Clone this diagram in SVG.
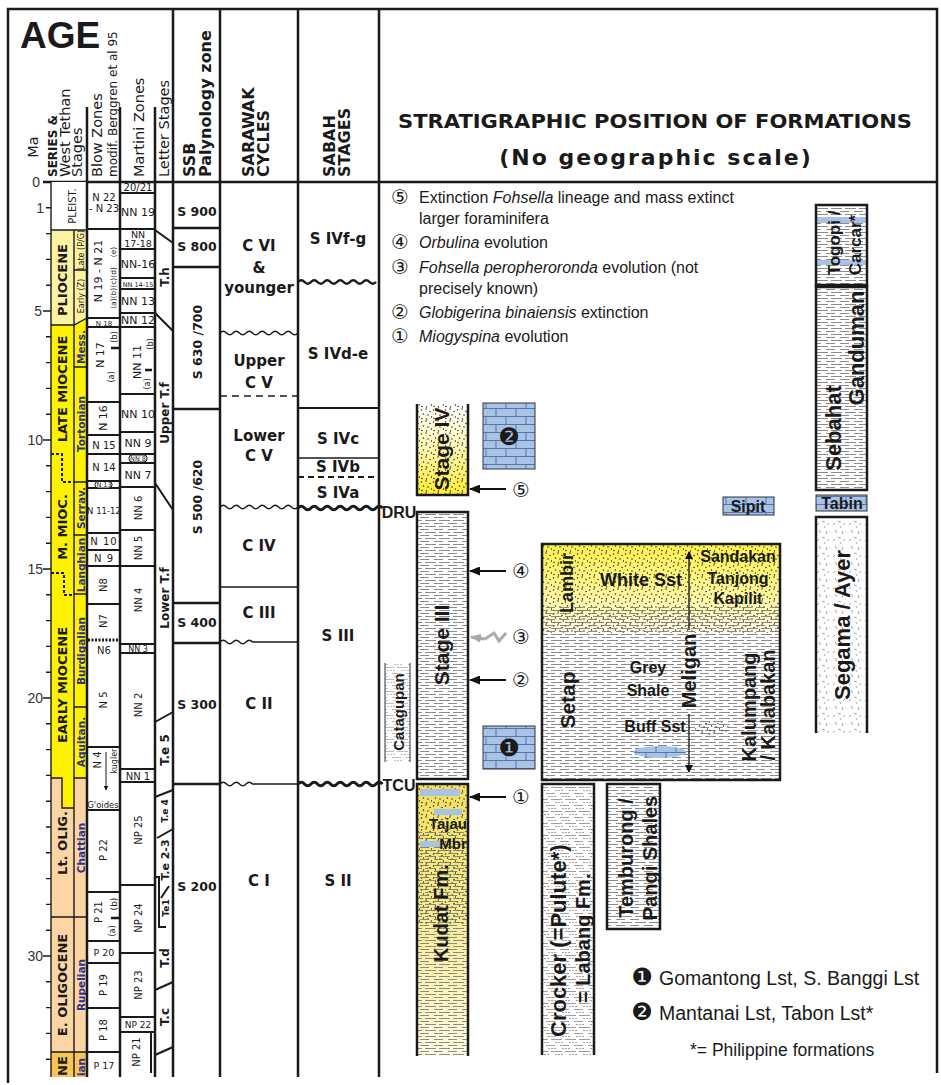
<svg xmlns="http://www.w3.org/2000/svg" width="941" height="1085" viewBox="0 0 941 1085">
<defs>
<style>
text{fill:#1a1a1a}
.hdr{font-family:"DejaVu Sans",sans-serif;font-size:14.5px;dominant-baseline:central}
.hdb{font-family:"DejaVu Sans",sans-serif;font-size:16px;font-weight:bold;dominant-baseline:central}
.ser{font-family:"DejaVu Sans",sans-serif;font-size:13px;font-weight:bold;text-anchor:middle;dominant-baseline:central}
.stg{font-family:"DejaVu Sans",sans-serif;font-size:10.5px;font-weight:bold;text-anchor:middle;dominant-baseline:central}
.stg.bl{fill:#2e3192}
.z{font-family:"DejaVu Sans",sans-serif;font-size:10px;text-anchor:middle}
.zr{font-family:"DejaVu Sans",sans-serif;font-size:10px;text-anchor:middle;dominant-baseline:central}
.lt{font-family:"DejaVu Sans",sans-serif;font-size:12px;font-weight:bold;text-anchor:middle;dominant-baseline:central}
.cy{font-family:"DejaVu Sans",sans-serif;font-size:15px;font-weight:bold;text-anchor:middle}
.ssb{font-family:"DejaVu Sans",sans-serif;font-size:12.5px;font-weight:bold;text-anchor:middle}
.fm{font-family:"Liberation Sans",Arial,sans-serif;font-weight:bold;text-anchor:middle;dominant-baseline:central}
.fh{font-family:"Liberation Sans",Arial,sans-serif;font-weight:bold;text-anchor:middle}
.lg{font-family:"Liberation Sans",Arial,sans-serif;font-size:16px}
.cn{font-family:"DejaVu Sans","Noto Sans CJK JP",sans-serif;font-size:20px;text-anchor:middle}
.dn{font-family:"DejaVu Sans",sans-serif;font-size:24px;text-anchor:middle;dominant-baseline:central}
.ma{font-family:"Liberation Sans",Arial,sans-serif;font-size:14px;text-anchor:end;fill:#333}
.k{stroke:#1a1a1a;fill:none}
.s{stroke:#1a1a1a}
.w25{stroke-width:2.5}
.w2{stroke-width:2}
.w15{stroke-width:1.4}
.w1{stroke-width:1}
.dash{stroke-dasharray:7 5}
.arr{stroke:#111;stroke-width:2.2;fill:none;marker-end:url(#ah)}
.lsb{stroke:#333;stroke-width:1}
</style>
<marker id="ah" markerWidth="11" markerHeight="9" refX="10" refY="4.5" orient="auto" markerUnits="userSpaceOnUse"><path d="M0,0 L11,4.5 L0,9 z" fill="#111"/></marker>
<marker id="ahg" markerWidth="11" markerHeight="9" refX="10" refY="4.5" orient="auto" markerUnits="userSpaceOnUse"><path d="M0,0 L11,4.5 L0,9 z" fill="#aaa"/></marker>
<marker id="ahs" markerWidth="8" markerHeight="8" refX="7" refY="4" orient="auto" markerUnits="userSpaceOnUse"><path d="M0,0 L8,4 L0,8 z" fill="#111"/></marker>
<marker id="ahxs" markerWidth="5" markerHeight="5" refX="4.5" refY="2.5" orient="auto" markerUnits="userSpaceOnUse"><path d="M0,0 L5,2.5 L0,5 z" fill="#111"/></marker>
<pattern id="shale" width="14" height="6" patternUnits="userSpaceOnUse"><path d="M0,1.5H9 M5,4.5H14 M0,4.5H2" stroke="#6e6e6e" stroke-width="0.8" fill="none"/></pattern>
<pattern id="dots" width="12" height="12" patternUnits="userSpaceOnUse"><g fill="#222"><circle cx="1.5" cy="2" r="0.75"/><circle cx="6" cy="1" r="0.75"/><circle cx="10" cy="3.5" r="0.75"/><circle cx="3.5" cy="6" r="0.75"/><circle cx="8" cy="7" r="0.75"/><circle cx="11.5" cy="9" r="0.75"/><circle cx="2" cy="10.5" r="0.75"/><circle cx="6.5" cy="11" r="0.75"/></g></pattern>
<pattern id="lst" width="20" height="16" patternUnits="userSpaceOnUse"><rect width="20" height="16" fill="#a9c3e6"/><path d="M0,0.5H20 M0,8.5H20 M6,0.5V8.5 M16,8.5V16" stroke="#4d6ea3" stroke-width="0.9" fill="none"/></pattern>
<pattern id="volc" width="16" height="16" patternUnits="userSpaceOnUse"><path d="M3,2l2,3 M11,3l-1,3 M6,9l3,1 M13,11l-2,2 M1,13l2,-2 M8,14l1,2" stroke="#8a8a8a" stroke-width="0.8" fill="none"/></pattern>
<pattern id="crock" width="14" height="12" patternUnits="userSpaceOnUse"><path d="M0,1.5H9 M5,7.5H14 M0,7.5H2" stroke="#777" stroke-width="0.7" fill="none"/><g fill="#333"><circle cx="3" cy="4.5" r="0.6"/><circle cx="6" cy="4.5" r="0.6"/><circle cx="9" cy="4.5" r="0.6"/><circle cx="10" cy="10.5" r="0.6"/><circle cx="13" cy="10.5" r="0.6"/><circle cx="2" cy="10.5" r="0.6"/></g></pattern>
<linearGradient id="gS4" x1="0" y1="0" x2="0" y2="1"><stop offset="0" stop-color="#ffffff"/><stop offset="0.5" stop-color="#fff8b0"/><stop offset="1" stop-color="#ffee2e"/></linearGradient>
<linearGradient id="gLam" x1="0" y1="0" x2="0" y2="1"><stop offset="0" stop-color="#fff24c"/><stop offset="0.65" stop-color="#fff8a8"/><stop offset="1" stop-color="#fffde6"/></linearGradient>
<linearGradient id="gKud" x1="0" y1="0" x2="0" y2="1"><stop offset="0" stop-color="#f3e060"/><stop offset="0.45" stop-color="#f8ec90"/><stop offset="1" stop-color="#fffbe2"/></linearGradient>
</defs>

<rect width="941" height="1085" fill="#ffffff"/>

<g id="frame">
<path class="k w25" d="M8,1083V9H937V1073"/>
<path class="k w25" d="M43,182H937"/>
</g>

<g id="header">
<text x="20" y="48" style="font-family:'Liberation Sans',Arial,sans-serif;font-size:37px;font-weight:bold">AGE</text>
<text class="hdr" transform="translate(33,147) rotate(-90)" text-anchor="middle">Ma</text>
<text class="hdr" transform="translate(53,177) rotate(-90)" style="font-weight:bold;font-size:12px">SERIES &amp;</text>
<text class="hdr" transform="translate(65,177) rotate(-90)">West Tethan</text>
<text class="hdr" transform="translate(77,177) rotate(-90)">Stages</text>
<text class="hdr" transform="translate(97,177) rotate(-90)">Blow Zones</text>
<text class="hdr" transform="translate(113,177) rotate(-90)" style="font-size:12px">modif. Berggren et al 95</text>
<text class="hdr" transform="translate(139,177) rotate(-90)">Martini Zones</text>
<text class="hdr" transform="translate(164,177) rotate(-90)">Letter Stages</text>
<text class="hdb" transform="translate(189,177) rotate(-90)">SSB</text>
<text class="hdb" transform="translate(205,177) rotate(-90)">Palynology zone</text>
<text class="hdb" transform="translate(248,177) rotate(-90)">SARAWAK</text>
<text class="hdb" transform="translate(263,177) rotate(-90)">CYCLES</text>
<text class="hdb" transform="translate(329,177) rotate(-90)">SABAH</text>
<text class="hdb" transform="translate(344,177) rotate(-90)">STAGES</text>
<text x="655" y="128" text-anchor="middle" textLength="514" lengthAdjust="spacingAndGlyphs" style="font-family:'DejaVu Sans',sans-serif;font-size:20px;font-weight:bold">STRATIGRAPHIC POSITION OF FORMATIONS</text>
<text x="656" y="165" text-anchor="middle" style="font-family:'DejaVu Sans',sans-serif;font-size:22px;font-weight:bold;letter-spacing:2px">(No geographic scale)</text>
</g>

<g id="ma-axis">
<path class="k w15" d="M43,182H51M46,207.8H51M46,233.6H51M46,259.4H51M46,285.2H51M43,311H51M46,336.8H51M46,362.6H51M46,388.4H51M46,414.2H51M43,440H51M46,465.8H51M46,491.6H51M46,517.4H51M46,543.2H51M43,569H51M46,594.8H51M46,620.6H51M46,646.4H51M46,672.2H51M43,698H51M46,723.8H51M46,749.6H51M46,775.4H51M46,801.2H51M46,827H51M46,852.8H51M46,878.6H51M46,904.4H51M46,930.2H51M43,956H51M46,981.8H51M46,1007.6H51M46,1033.4H51M46,1059.2H51"/>
<text class="ma" x="40" y="187">0</text>
<text class="ma" x="44" y="213">1</text>
<text class="ma" x="42" y="316">5</text>
<text class="ma" x="43" y="445">10</text>
<text class="ma" x="43" y="574">15</text>
<text class="ma" x="43" y="703">20</text>
<text class="ma" x="43" y="961">30</text>
</g>

<g id="series-stages">
<rect x="51" y="182" width="36" height="48" fill="#ffffff"/>
<rect x="51" y="230" width="23" height="95" fill="#fcf3a2"/>
<polygon points="74,230 87,230 87,318 74,325" fill="#fcf3a2"/>
<polygon points="51,325 74,325 74,808 62,808 62,778 51,778" fill="#fff200"/>
<polygon points="74,325 87,318 87,778 74,778" fill="#fff200"/>
<polygon points="51,778 62,778 62,808 74,808 74,1052 51,1052" fill="#fbd5a3"/>
<rect x="74" y="778" width="13" height="274" fill="#fbd5a3"/>
<rect x="51" y="1052" width="36" height="25" fill="#f8c45a"/>
<path class="k w15" d="M51,182V1077M74,230V1077M51,230H87M51,325H74L87,318M74,270H87M74,367H87M74,482H87M74,535H87M74,594H87M74,707H87M74,778H87M51,778H62V808H74M51,917H87M51,1052H87"/>
<path class="k w2" d="M51,454H62V482H74M51,573H64V595H74" stroke-dasharray="3 2"/>
<text class="zr" transform="translate(72,206) rotate(-90)">PLEIST.</text>
<text class="ser" transform="translate(62,280) rotate(-90)">PLIOCENE</text>
<text class="stg" transform="translate(81,250) rotate(-90)" style="font-size:8px;font-weight:normal">Late (P/G)</text>
<text class="stg" transform="translate(81,296) rotate(-90)" style="font-size:8px;font-weight:normal">Early (Z)</text>
<text class="ser" transform="translate(62,389) rotate(-90)">LATE MIOCENE</text>
<text class="stg bl" transform="translate(81,347) rotate(-90)">Mess.</text>
<text class="stg bl" transform="translate(81,424) rotate(-90)">Tortonian</text>
<text class="ser" transform="translate(62,527) rotate(-90)">M. MIOC.</text>
<text class="stg bl" transform="translate(81,508) rotate(-90)">Serrav.</text>
<text class="stg bl" transform="translate(81,565) rotate(-90)">Langhian</text>
<text class="ser" transform="translate(62,685) rotate(-90)">EARLY MIOCENE</text>
<text class="stg bl" transform="translate(81,651) rotate(-90)">Burdigalian</text>
<text class="stg bl" transform="translate(81,742) rotate(-90)">Aquitan.</text>
<text class="ser" transform="translate(62,843) rotate(-90)">Lt. OLIG.</text>
<text class="stg bl" transform="translate(81,848) rotate(-90)">Chattian</text>
<text class="ser" transform="translate(62,985) rotate(-90)">E. OLIGOCENE</text>
<text class="stg bl" transform="translate(81,985) rotate(-90)">Rupelian</text>
<text class="ser" transform="translate(62,1066) rotate(-90)">NE</text>
<text class="stg bl" transform="translate(81,1067) rotate(-90)">ian</text>
</g>

<g id="blow-zones">
<path class="k w25" d="M87,107V1077M120,107V1077"/>
<path class="k w2" d="M87,229H120M87,318H120M87,327H120M87,402H120M87,435H120M87,454H120M87,481H120M87,488H120M87,533H120M87,550H120M87,566H120M87,604H120M87,747H120M87,810H120M87,892H120M87,941H120M87,963H120M87,1008H120M87,1052H120"/>
<path class="k" stroke-width="3" stroke-dasharray="2 1.5" d="M88,640H119"/>
<path class="k" stroke-width="2.5" d="M111,348H119M111,918H119"/>
<rect x="95" y="481.5" width="17" height="6.5" rx="3" fill="#fff" class="s w1"/>
<text class="z" x="104" y="201">N 22</text>
<text class="z" x="104" y="212">- N 23</text>
<text class="zr" transform="translate(98,271) rotate(-90)" style="font-size:11px">N 19 - N 21</text>
<text class="zr" transform="translate(113,252) rotate(-90)" style="font-size:7.5px">(e)</text>
<text class="zr" transform="translate(113,288) rotate(-90)" style="font-size:7.5px">(a)(b)(c)(d)</text>
<text class="z" x="104" y="325.5" style="font-size:7px">N 18</text>
<text class="zr" transform="translate(100,355) rotate(-90)" style="font-size:11px">N 17</text>
<text class="zr" transform="translate(114,337) rotate(-90)" style="font-size:8px">(b)</text>
<text class="zr" transform="translate(111,377) rotate(-90)" style="font-size:8px">(a)</text>
<text class="zr" transform="translate(103,418) rotate(-90)" style="font-size:11px">N 16</text>
<text class="z" x="104" y="449">N 15</text>
<text class="z" x="104" y="471">N 14</text>
<text class="z" x="104" y="487" style="font-size:6.5px">N 13</text>
<text class="z" x="104" y="514" style="font-size:8.5px">N 11-12</text>
<text class="z" x="104" y="545" style="letter-spacing:1px">N 10</text>
<text class="z" x="104" y="562" style="letter-spacing:1px">N 9</text>
<text class="zr" transform="translate(103,585) rotate(-90)">N8</text>
<text class="zr" transform="translate(103,621) rotate(-90)">N7</text>
<text class="z" x="104" y="654">N6</text>
<text class="zr" transform="translate(103,700) rotate(-90)">N 5</text>
<text class="zr" transform="translate(97,760) rotate(-90)">N 4</text>
<path class="k w1" d="M106,770V752M106,770V790" marker-end="url(#ahxs)"/>
<text class="zr" transform="translate(114,760) rotate(-90)" style="font-size:8px">kugleri</text>
<text class="z" x="103" y="808" style="font-size:8.5px">G'oides</text>
<text class="zr" transform="translate(103,850) rotate(-90)">P 22</text>
<text class="zr" transform="translate(98,912) rotate(-90)">P 21</text>
<text class="zr" transform="translate(114,904) rotate(-90)" style="font-size:9px">(b)</text>
<text class="zr" transform="translate(112,931) rotate(-90)" style="font-size:8px">(a)</text>
<text class="z" x="104" y="956" style="font-size:9.5px">P 20</text>
<text class="zr" transform="translate(103,985) rotate(-90)">P 19</text>
<text class="zr" transform="translate(103,1030) rotate(-90)">P 18</text>
<text class="z" x="104" y="1069" style="font-size:9.5px">P 17</text>
</g>

<g id="martini-zones">
<path class="k w25" d="M155,107V1077"/>
<path class="k w2" d="M120,193H155M120,229H155M120,249H155M120,278H155M120,289H155M120,313H155M120,327H155M120,394H155M120,432H155M120,454H155M120,463H155M120,487H155M120,530H155M120,566H155M120,644H155M120,653H155M120,769H155M120,782H155M120,885H155M120,953H155M120,1017H155M120,1032H155M151,1032V1073"/>
<path class="k" stroke-width="2.5" d="M145,370H152"/>
<rect x="129" y="455" width="18" height="7" rx="3" fill="#fff" class="s w1"/>
<text class="z" x="138" y="191">20/21</text>
<text class="z" x="138" y="216" style="font-size:11px">NN 19</text>
<text class="z" x="138" y="238" style="font-size:9.5px">NN</text>
<text class="z" x="138" y="247" style="font-size:9.5px">17-18</text>
<text class="z" x="138" y="268" style="font-size:11px">NN-16</text>
<text class="z" x="138" y="286.5" style="font-size:6.5px">NN 14-15</text>
<text class="z" x="138" y="305" style="font-size:11px">NN 13</text>
<text class="z" x="138" y="324" style="font-size:11px">NN 12</text>
<text class="zr" transform="translate(137,362) rotate(-90)" style="font-size:11px">NN 11</text>
<text class="zr" transform="translate(150,344) rotate(-90)" style="font-size:8px">(b)</text>
<text class="zr" transform="translate(147,384) rotate(-90)" style="font-size:8px">(a)</text>
<text class="z" x="138" y="418" style="font-size:11px">NN 10</text>
<text class="z" x="138" y="447" style="font-size:11px">NN 9</text>
<text class="z" x="138" y="461" style="font-size:6.5px">NN 8</text>
<text class="z" x="138" y="479" style="font-size:11px">NN 7</text>
<text class="zr" transform="translate(138,508) rotate(-90)">NN 6</text>
<text class="zr" transform="translate(138,548) rotate(-90)">NN 5</text>
<text class="zr" transform="translate(138,600) rotate(-90)">NN 4</text>
<text class="z" x="138" y="652" style="font-size:8px">NN 3</text>
<text class="zr" transform="translate(138,705) rotate(-90)">NN 2</text>
<text class="z" x="138" y="780">NN 1</text>
<text class="zr" transform="translate(138,830) rotate(-90)">NP 25</text>
<text class="zr" transform="translate(138,918) rotate(-90)">NP 24</text>
<text class="zr" transform="translate(138,985) rotate(-90)">NP 23</text>
<text class="z" x="138" y="1028" style="font-size:9px">NP 22</text>
<text class="zr" transform="translate(136,1052) rotate(-90)">NP 21</text>
</g>

<g id="letter-stages">
<path class="k w25" d="M173,9V1077"/>
<path class="k w2" d="M155,230L173,243M155,313L173,331M155,483L173,510M155,722L173,712M155,797L173,790M157,838L173,829M161,898L169,886M155,877H159V927H166M155,990L173,982M155,1055L173,1047"/>
<text class="lt" transform="translate(165,277) rotate(-90)">T.h</text>
<text class="lt" transform="translate(165,413) rotate(-90)">Upper T.f</text>
<text class="lt" transform="translate(165,598) rotate(-90)">Lower T.f</text>
<text class="lt" transform="translate(165,750) rotate(-90)">T.e 5</text>
<text class="lt" transform="translate(165,811) rotate(-90)" style="font-size:9px">T.e 4</text>
<text class="lt" transform="translate(165,860) rotate(-90)" style="font-size:11px">T.e 2-3</text>
<text class="lt" transform="translate(166,908) rotate(-90)" style="font-size:9px">Te1</text>
<text class="lt" transform="translate(165,958) rotate(-90)">T.d</text>
<text class="lt" transform="translate(165,1017) rotate(-90)">T.c</text>
</g>

<g id="ssb-zones">
<path class="k w25" d="M220,9V1077M173,228H220M173,267H220M173,409H220M173,603H220M173,643H220M173,784H220"/>
<text class="ssb" x="197" y="216">S 900</text>
<text class="ssb" x="197" y="251">S 800</text>
<text class="ssb" transform="translate(197,342) rotate(-90)" dominant-baseline="central">S 630 /700</text>
<text class="ssb" transform="translate(197,497) rotate(-90)" dominant-baseline="central">S 500 /620</text>
<text class="ssb" x="197" y="627">S 400</text>
<text class="ssb" x="197" y="709">S 300</text>
<text class="ssb" x="197" y="891">S 200</text>
</g>

<g id="sarawak-cycles">
<path class="k w25" d="M298,9V1077"/>
<path class="k w15" d="M220,333q3.25,-3.5 6.5,0t6.5,0t6.5,0t6.5,0t6.5,0t6.5,0t6.5,0t6.5,0t6.5,0t6.5,0t6.5,0t6.5,0"/>
<path class="k w15 dash" d="M220,396H298"/>
<path class="k w15" d="M220,507q3.25,-3.5 6.5,0t6.5,0t6.5,0t6.5,0t6.5,0t6.5,0t6.5,0t6.5,0t6.5,0t6.5,0t6.5,0t6.5,0"/>
<path class="k w15" d="M220,587H298"/>
<path class="k w15" d="M220,642q3.25,-3.5 6.5,0t6.5,0t6.5,0t6.5,0t6.5,0H298"/>
<path class="k w15" d="M220,784q3.25,-3.5 6.5,0t6.5,0t6.5,0t6.5,0t6.5,0H298"/>
<text class="cy" x="259" y="251">C VI</text>
<text class="cy" x="259" y="273">&amp;</text>
<text class="cy" x="259" y="293">younger</text>
<text class="cy" x="259" y="366">Upper</text>
<text class="cy" x="259" y="388">C V</text>
<text class="cy" x="259" y="441">Lower</text>
<text class="cy" x="259" y="461">C V</text>
<text class="cy" x="259" y="551">C IV</text>
<text class="cy" x="259" y="618">C III</text>
<text class="cy" x="259" y="709">C II</text>
<text class="cy" x="259" y="886">C I</text>
</g>

<g id="sabah-stages">
<path class="k w25" d="M379,9V1077"/>
<path class="k w25" d="M298,282q3.25,-3.5 6.5,0t6.5,0t6.5,0t6.5,0t6.5,0t6.5,0t6.5,0t6.5,0t6.5,0t6.5,0t6.5,0t6.5,0"/>
<path class="k w2" d="M298,408H379"/>
<path class="k w15" d="M298,458H379"/>
<path class="k w2" d="M298,477H379" stroke-dasharray="6 4"/>
<path class="k" stroke-width="3" d="M298,508q3.25,-3.5 6.5,0t6.5,0t6.5,0t6.5,0t6.5,0t6.5,0t6.5,0t6.5,0t6.5,0t6.5,0t6.5,0t6.5,0t6.5,0"/>
<path class="k" stroke-width="3" d="M298,784q3.25,-3.5 6.5,0t6.5,0t6.5,0t6.5,0t6.5,0t6.5,0t6.5,0t6.5,0t6.5,0t6.5,0t6.5,0t6.5,0t6.5,0"/>
<text class="cy" x="338" y="244">S IVf-g</text>
<text class="cy" x="338" y="359">S IVd-e</text>
<text class="cy" x="338" y="444">S IVc</text>
<text class="cy" x="338" y="472">S IVb</text>
<text class="cy" x="338" y="498">S IVa</text>
<text class="cy" x="338" y="641">S III</text>
<text class="cy" x="338" y="886">S II</text>
</g>

<g id="event-legend">
<text class="cn" x="400" y="204">⑤</text>
<text class="lg" x="419" y="203">Extinction <tspan font-style="italic">Fohsella</tspan> lineage and mass extinct</text>
<text class="lg" x="419" y="224">larger foraminifera</text>
<text class="cn" x="400" y="249">④</text>
<text class="lg" x="419" y="248"><tspan font-style="italic">Orbulina</tspan> evolution</text>
<text class="cn" x="400" y="274">③</text>
<text class="lg" x="419" y="273"><tspan font-style="italic">Fohsella peropheroronda</tspan> evolution (not</text>
<text class="lg" x="419" y="294">precisely known)</text>
<text class="cn" x="400" y="319">②</text>
<text class="lg" x="419" y="318"><tspan font-style="italic">Globigerina binaiensis</tspan> extinction</text>
<text class="cn" x="400" y="343">①</text>
<text class="lg" x="419" y="342"><tspan font-style="italic">Miogyspina</tspan> evolution</text>
</g>

<g id="stage-iv">
<rect x="417" y="404" width="51" height="91" fill="url(#gS4)"/>
<rect x="417" y="404" width="51" height="91" fill="url(#dots)"/>
<path class="k w25" d="M417,404V495H468V404"/>
<text class="fm" transform="translate(441,449) rotate(-90)" style="font-size:21px">Stage IV</text>
</g>

<g id="lst-2">
<rect x="483" y="403" width="52" height="66" fill="url(#lst)" class="lsb"/>
<text class="dn" x="509" y="437">❷</text>
</g>

<g id="labels-unconf">
<text class="fh" x="399" y="518" style="font-size:16px">DRU</text>
<text class="fh" x="399" y="791" style="font-size:16px">TCU</text>
</g>

<g id="stage-iii">
<rect x="417" y="512" width="51" height="267" fill="#fff"/>
<rect x="417" y="512" width="51" height="267" fill="url(#shale)" class="s w25"/>
<text class="fm" transform="translate(441,645) rotate(-90)" style="font-size:21px">Stage III</text>
</g>

<g id="lst-1">
<rect x="483" y="726" width="52" height="43" fill="url(#lst)" class="lsb"/>
<text class="dn" x="509" y="748">❶</text>
</g>

<g id="catagupan">
<rect x="385" y="663" width="25" height="99" fill="url(#crock)" opacity="0.7"/>
<path class="k" stroke="#555" stroke-width="0.9" d="M385,663V762M410,663V762"/>
<text class="fm" transform="translate(398,712) rotate(-90)" style="font-size:15px">Catagupan</text>
</g>

<g id="kudat">
<rect x="417" y="784" width="51" height="272" fill="url(#gKud)"/>
<rect x="417" y="784" width="51" height="140" fill="url(#dots)"/>
<rect x="417" y="830" width="51" height="226" fill="url(#shale)"/>
<rect x="420" y="789" width="40" height="7" fill="#a9c3e6"/>
<rect x="434" y="809" width="28" height="6" fill="#a9c3e6"/>
<rect x="420" y="841" width="20" height="6" fill="#a9c3e6"/>
<path class="k w25" d="M417,1056V784H468V1056"/>
<text class="fh" x="448" y="829" style="font-size:15px">Tajau</text>
<text class="fh" x="453" y="849" style="font-size:15px">Mbr</text>
<text class="fm" transform="translate(441,913) rotate(-90)" style="font-size:20px">Kudat Fm.</text>
</g>

<g id="lambir-setap">
<rect x="542" y="544" width="238" height="236" fill="#fff"/>
<rect x="542" y="544" width="238" height="89" fill="url(#gLam)"/>
<rect x="542" y="544" width="238" height="89" fill="url(#dots)"/>
<rect x="542" y="606" width="238" height="174" fill="url(#shale)"/>
<ellipse cx="712" cy="728" rx="17" ry="7" fill="url(#dots)"/>
<ellipse cx="660" cy="752" rx="26" ry="6" fill="url(#lst)"/>
<rect x="542" y="544" width="238" height="236" class="k w25"/>
<path class="k w15" d="M689,630V552" marker-end="url(#ahs)"/>
<path class="k w15" d="M689,714V772" marker-end="url(#ahs)"/>
<text class="fm" transform="translate(567,583) rotate(-90)" style="font-size:18px">Lambir</text>
<text class="fh" x="641" y="586" style="font-size:18px">White Sst</text>
<text class="fh" x="738" y="562" style="font-size:16px">Sandakan</text>
<text class="fh" x="738" y="584" style="font-size:16px">Tanjong</text>
<text class="fh" x="738" y="604" style="font-size:16px">Kapilit</text>
<text class="fm" transform="translate(567,700) rotate(-90)" style="font-size:21px">Setap</text>
<text class="fh" x="648" y="673" style="font-size:16px">Grey</text>
<text class="fh" x="648" y="696" style="font-size:16px">Shale</text>
<text class="fm" transform="translate(689,671) rotate(-90)" style="font-size:20px">Meligan</text>
<text class="fh" x="655" y="732" style="font-size:16px">Buff Sst</text>
<text class="fm" transform="translate(749,707) rotate(-90)" style="font-size:20px">Kalumpang</text>
<text class="fm" transform="translate(768,705) rotate(-90)" style="font-size:20px">/ Kalabakan</text>
</g>

<g id="crocker">
<rect x="542" y="784" width="52" height="271" fill="url(#crock)"/>
<path class="k w25" d="M542,1055V784H594V1055"/>
<text class="fm" transform="translate(558,1037) rotate(-90)" style="font-size:22px;text-anchor:start">Crocker (=Pulute*)</text>
<text class="fm" transform="translate(583,1003) rotate(-90)" style="font-size:20px;text-anchor:start">= Labang Fm.</text>
</g>

<g id="temburong">
<rect x="607" y="784" width="53" height="145" fill="url(#shale)" class="s w25"/>
<text class="fm" transform="translate(626,858) rotate(-90)" style="font-size:20px">Temburong /</text>
<text class="fm" transform="translate(650,858) rotate(-90)" style="font-size:20px">Pangi Shales</text>
</g>

<g id="sipit">
<rect x="723" y="497" width="51" height="18" fill="url(#lst)" class="lsb"/>
<text class="fh" x="748" y="512" style="font-size:16px">Sipit</text>
</g>

<g id="togopi-carcar">
<rect x="816" y="205" width="51" height="81" fill="url(#shale)"/>
<rect x="816" y="217" width="51" height="6" fill="#a9c3e6"/>
<rect x="816" y="260" width="51" height="5" fill="#a9c3e6"/>
<rect x="816" y="205" width="51" height="81" class="k w25"/>
<text class="fm" transform="translate(834,243) rotate(-90)" style="font-size:17px">Togopi /</text>
<text class="fm" transform="translate(855,245) rotate(-90)" style="font-size:17px">Carcar*</text>
</g>

<g id="sebahat-ganduman">
<rect x="816" y="286" width="51" height="204" fill="url(#shale)" class="s w25"/>
<path class="k" stroke-width="4.5" d="M816,286H867"/>
<text class="fm" transform="translate(833,428) rotate(-90)" style="font-size:22px">Sebahat</text>
<text class="fm" transform="translate(856,348) rotate(-90)" style="font-size:22px">Ganduman</text>
</g>

<g id="tabin">
<rect x="816" y="495" width="51" height="16" fill="url(#lst)" class="lsb"/>
<text class="fh" x="842" y="509" style="font-size:16px">Tabin</text>
</g>

<g id="segama-ayer">
<rect x="816" y="517" width="51" height="216" fill="url(#volc)"/>
<path class="k w25" d="M816,733V517H867V733"/>
<text class="fm" transform="translate(842,625) rotate(-90)" style="font-size:22px">Segama / Ayer</text>
</g>

<g id="connectors">
<path class="arr" d="M506,489H470"/>
<path class="arr" d="M506,571H470"/>
<path stroke="#aaa" stroke-width="3" fill="none" d="M506,633L499,641L494,633L485,639"/>
<path stroke="#aaa" stroke-width="3" fill="none" marker-end="url(#ahg)" d="M485,639L471,637"/>
<path class="arr" d="M506,680H470"/>
<path class="arr" d="M506,797H470"/>
<text class="cn" x="521" y="497">⑤</text>
<text class="cn" x="521" y="578">④</text>
<text class="cn" x="521" y="644">③</text>
<text class="cn" x="521" y="687">②</text>
<text class="cn" x="521" y="804">①</text>
</g>

<g id="legend">
<text class="dn" x="642" y="977">❶</text>
<text x="659" y="985" style="font-family:'Liberation Sans',Arial,sans-serif;font-size:19.5px">Gomantong Lst, S. Banggi Lst</text>
<text class="dn" x="642" y="1012">❷</text>
<text x="659" y="1020" style="font-family:'Liberation Sans',Arial,sans-serif;font-size:19.5px">Mantanai Lst, Tabon Lst*</text>
<text x="690" y="1056" style="font-family:'Liberation Sans',Arial,sans-serif;font-size:17.5px">*= Philippine formations</text>
</g>
</svg>
